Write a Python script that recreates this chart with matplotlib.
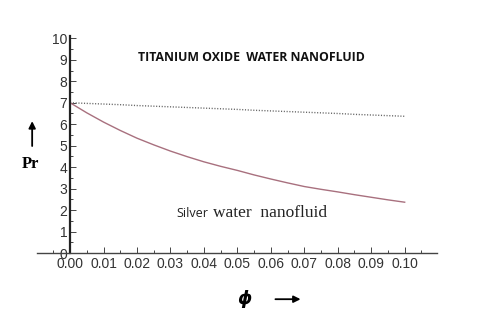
import numpy as np
import matplotlib.pyplot as plt
from matplotlib.ticker import MultipleLocator

phi = [0.000, 0.005, 0.010, 0.015, 0.020, 0.025, 0.030, 0.035, 0.040, 0.045, 0.050,
       0.055, 0.060, 0.065, 0.070, 0.075, 0.080, 0.085, 0.090, 0.095, 0.100]
pr_tio2 = [7.00, 6.97, 6.94, 6.91, 6.87, 6.84, 6.81, 6.78, 6.75, 6.72, 6.69,
           6.65, 6.62, 6.59, 6.56, 6.53, 6.50, 6.46, 6.43, 6.40, 6.37]
pr_silver = [7.00, 6.53, 6.10, 5.71, 5.35, 5.04, 4.75, 4.49, 4.25, 4.04, 3.85,
             3.64, 3.45, 3.27, 3.10, 2.97, 2.85, 2.72, 2.60, 2.48, 2.37]

x_ticks = [0.00, 0.01, 0.02, 0.03, 0.04, 0.05, 0.06, 0.07, 0.08, 0.09, 0.10]
y_ticks = [0, 1, 2, 3, 4, 5, 6, 7, 8, 9, 10]

fig = plt.figure(figsize=(4.8, 3.2), dpi=100)
ax = fig.add_axes([0.077, 0.209, 0.833, 0.678])

ax.plot(phi, pr_tio2, color="#666666", linestyle=(0, (0.8, 1.2)), linewidth=1.0)
ax.plot(phi, pr_silver, color="#a8707e", linewidth=1.0)

ax.set_xlim(-0.0099, 0.1096)
ax.set_ylim(0, 10.1)

for s in ["top", "right"]:
    ax.spines[s].set_visible(False)
ax.spines["left"].set_position(("data", 0))
ax.spines["bottom"].set_position(("data", 0))
ax.spines["left"].set_linewidth(1.6)
ax.spines["bottom"].set_linewidth(1.0)
ax.spines["left"].set_color("#222222")
ax.spines["bottom"].set_color("#444444")

ax.set_xticks(x_ticks)
ax.set_xticklabels([f"{v:.2f}" for v in x_ticks])
ax.set_yticks(y_ticks)
ax.xaxis.set_minor_locator(MultipleLocator(0.005))
ax.yaxis.set_minor_locator(MultipleLocator(0.5))
ax.tick_params(axis="both", which="both", direction="in", colors="#444444",
               labelcolor="#333333", labelsize=10, width=0.7)
ax.tick_params(axis="both", which="major", length=4)
ax.tick_params(axis="both", which="minor", length=2.5)
ax.tick_params(axis="x", pad=3)
ax.tick_params(axis="y", pad=2)
for lab in ax.get_xticklabels() + ax.get_yticklabels():
    lab.set_family("Liberation Sans")

fig.text(0.523, 0.819, "TITANIUM OXIDE  WATER NANOFLUID", ha="center", va="center",
         fontsize=8.8, fontweight="bold", family="Open Sans", color="#111111")
fig.text(0.367, 0.334, "Silver", ha="left", va="center", fontsize=9,
         family="Open Sans", color="#222222")
fig.text(0.443, 0.334, "water  nanofluid", ha="left", va="center", fontsize=12.5,
         family="Liberation Serif", color="#222222")

fig.text(0.063, 0.488, "Pr", ha="center", va="center", fontsize=12,
         fontweight="bold", family="Liberation Serif")
fig.add_artist(plt.Annotation("", xy=(0.067, 0.63), xytext=(0.067, 0.535),
                              xycoords="figure fraction",
                              arrowprops=dict(arrowstyle="-|>", color="black", lw=1.3,
                                              mutation_scale=10)))

fig.text(0.51, 0.065, r"$\boldsymbol{\phi}$", ha="center", va="center", fontsize=13)
fig.add_artist(plt.Annotation("", xy=(0.632, 0.065), xytext=(0.568, 0.065),
                              xycoords="figure fraction",
                              arrowprops=dict(arrowstyle="-|>", color="black", lw=1.3,
                                              mutation_scale=10)))

fig.savefig("out.png", dpi=100, facecolor="white")
